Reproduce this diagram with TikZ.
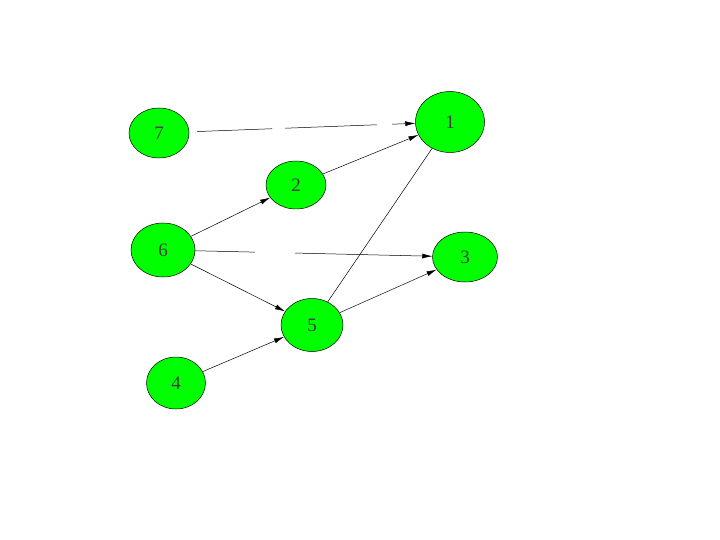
\documentclass[tikz,border=0pt]{standalone}
\usepackage{fontspec}
\setmainfont{Liberation Serif}
\usetikzlibrary{shapes.geometric,arrows.meta}

\begin{document}
\begin{tikzpicture}[x=1pt,y=-1pt,
    vertex/.style={ellipse,draw=black,line width=0.5pt,fill=green,inner sep=0pt,
      font=\fontsize{19}{22}\selectfont,text=black!75},
    edge/.style={line width=0.5pt,-{Latex[length=10pt,width=5pt]}}]
  \useasboundingbox (0,0) rectangle (720,540);

  % vertices
  \node[vertex,minimum width=60,minimum height=50] (n7) at (159,133) {7};
  \node[vertex,minimum width=69,minimum height=61] (n1) at (450,122) {1};
  \node[vertex,minimum width=60,minimum height=48] (n2) at (296,185) {2};
  \node[vertex,minimum width=64,minimum height=54] (n6) at (163,250) {6};
  \node[vertex,minimum width=65,minimum height=50] (n3) at (465,257) {3};
  \node[vertex,minimum width=62,minimum height=53] (n5) at (312,325) {5};
  \node[vertex,minimum width=59,minimum height=52] (n4) at (176,383) {4};

  % edges
  \draw[edge,shorten <=8pt,dash pattern=on 75pt off 13pt on 92pt off 15pt on 60pt] (n7) -- (n1);
  \draw[edge] (n2) -- (n1);
  \draw[edge] (n6) -- (n2);
  \draw[edge,dash pattern=on 60pt off 40pt on 200pt] (n6) -- (n3);
  \draw[edge] (n6) -- (n5);
  \draw[edge] (n4) -- (n5);
  \draw[edge] (n5) -- (n3);
  \draw[line width=0.5pt] (n5) -- (n1);
\end{tikzpicture}
\end{document}
